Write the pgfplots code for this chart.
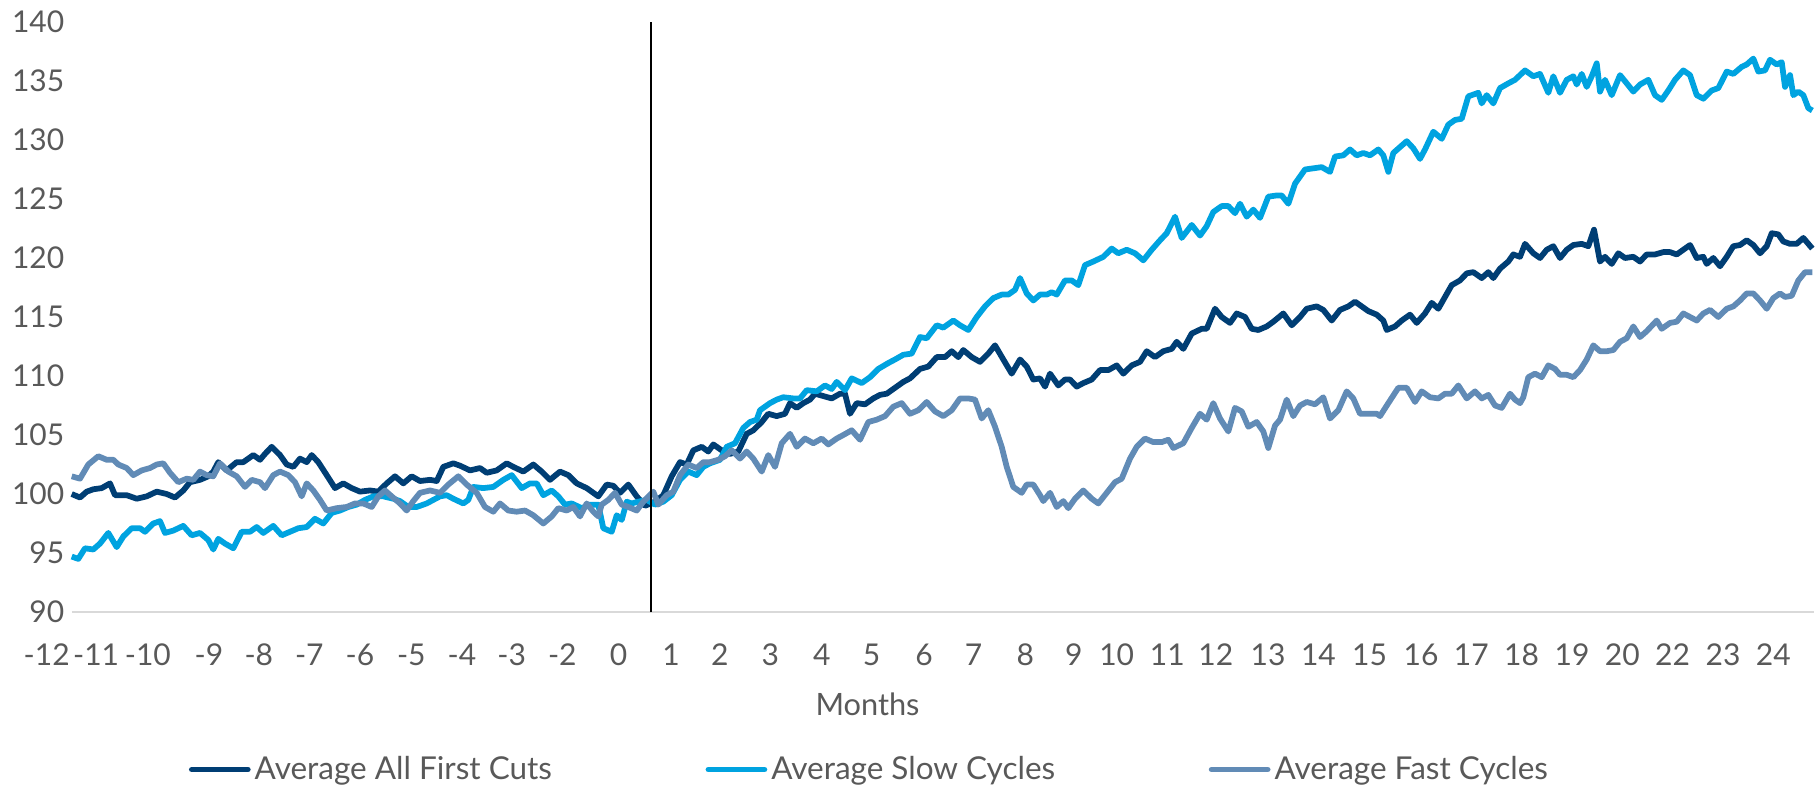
\documentclass[border=0pt]{standalone}
\usepackage{pgfplots}
\usepackage{pgfplotstable}
\usepackage{fontspec}
\setmainfont{Lato}
\pgfplotsset{compat=1.18}

\definecolor{navy}{HTML}{003E74}
\definecolor{lightblue}{HTML}{00A3E0}
\definecolor{steel}{HTML}{618BB6}
\definecolor{txtgray}{HTML}{595959}
\definecolor{basegray}{HTML}{D9D9D9}

% x = position along the axis (pixels of the original), y = index value
\pgfplotstableread{
x y
71.7 100.0
80 99.7
86.7 100.2
93.3 100.4
101.7 100.5
110 100.9
115 99.9
126.7 99.9
136.7 99.6
146.7 99.8
156.7 100.2
166.7 100.0
175 99.7
183.3 100.3
190 101.0
200 101.2
208.3 101.5
213.3 101.9
218.3 102.7
226.7 102.0
236.7 102.7
243.3 102.7
253.3 103.3
260 102.9
265 103.4
271.7 104.0
280 103.3
286.7 102.5
293.3 102.3
300 103.0
306.7 102.7
311.7 103.3
318.3 102.7
326.7 101.6
335 100.5
343.3 100.9
351.7 100.5
360 100.2
370 100.3
378.3 100.2
386.7 100.9
395 101.5
403.3 100.9
411.7 101.5
420 101.1
430 101.2
436.7 101.1
443.3 102.3
453.3 102.6
460 102.4
470 102.0
480 102.2
486.7 101.8
496.7 102.0
506.7 102.6
513.3 102.3
523.3 101.9
533.3 102.5
541.7 101.9
550 101.2
560 101.9
568.3 101.6
576.7 100.9
586.7 100.5
598.3 99.8
606.7 100.8
613.3 100.7
620 100.1
628.3 100.8
636.7 99.8
645 99.0
655 99.35
663.3 99.9
671.7 101.5
680 102.7
686.7 102.5
693.3 103.7
701.7 104.0
708.3 103.6
713.3 104.2
721.7 103.7
730 103.4
738.3 103.6
746.7 105.1
753.3 105.4
761.7 106.1
768.3 106.8
776.7 106.6
785 106.8
790 107.7
796.7 107.3
803.3 107.7
810 108.0
815 108.5
823.3 108.3
831.7 108.1
840 108.5
845 108.5
850 106.8
856.7 107.7
865 107.6
873.3 108.1
880 108.4
886.7 108.5
895 109.0
903.3 109.5
910 109.8
920 110.6
928.3 110.8
936.7 111.6
945 111.6
951.7 112.1
958.3 111.6
963.3 112.2
971.7 111.6
980 111.2
988.3 111.9
995 112.6
1003.3 111.4
1011.7 110.2
1020 111.4
1026.7 110.8
1033.3 109.7
1040 109.8
1045 109.1
1050 110.2
1058.3 109.2
1065 109.7
1070 109.7
1076.7 109.1
1083.3 109.4
1091.7 109.7
1100 110.5
1108.3 110.5
1116.7 110.9
1123.3 110.2
1131.7 110.9
1140 111.2
1146.7 112.1
1155 111.6
1163.3 112.1
1171.7 112.3
1176.7 112.9
1183.3 112.3
1191.7 113.6
1201.7 114.0
1206.7 114.0
1215 115.7
1221.7 115.0
1230 114.5
1236.7 115.3
1245 115.0
1251.7 114.0
1258.3 113.9
1266.7 114.2
1273.3 114.6
1283.3 115.3
1291.7 114.3
1300 115.0
1306.7 115.7
1316.7 115.9
1323.3 115.6
1331.7 114.7
1340 115.6
1348.3 115.9
1355 116.3
1361.7 115.9
1368.3 115.5
1376.7 115.2
1383.3 114.7
1386.7 113.9
1395 114.2
1401.7 114.7
1410 115.2
1416.7 114.5
1425 115.3
1431.7 116.2
1438.3 115.7
1445 116.7
1451.7 117.7
1460 118.1
1466.7 118.7
1473.3 118.8
1481.7 118.3
1488.3 118.8
1493.3 118.3
1500 119.1
1508.3 119.7
1513.3 120.3
1520 120.1
1525 121.2
1533.3 120.4
1540 120.0
1546.7 120.7
1553.3 121.0
1560 120.0
1566.7 120.7
1573.3 121.1
1581.7 121.2
1588.3 121.0
1594 122.4
1600 119.7
1605 120.1
1611.7 119.5
1618.3 120.4
1625 120.0
1633.3 120.1
1640 119.7
1646.7 120.3
1655 120.3
1663.3 120.5
1670 120.5
1676.7 120.3
1683.3 120.7
1690 121.1
1696.7 120.0
1703.3 120.1
1706.7 119.5
1713.3 120.0
1720 119.3
1726.7 120.1
1733.3 121.0
1740 121.1
1746.7 121.5
1753.3 121.1
1760 120.4
1766.7 121.0
1771.7 122.1
1778.3 122.0
1783.3 121.4
1790 121.2
1796.7 121.2
1803.3 121.7
1808.3 121.2
1812.3 120.8
}\allcuts

\pgfplotstableread{
x y
71.7 94.7
78.3 94.5
85 95.4
93.3 95.3
100 95.8
108.3 96.7
116.7 95.5
123.3 96.4
131.7 97.1
140 97.1
145 96.8
153.3 97.5
160 97.7
165 96.7
173.3 96.9
183.3 97.3
191.7 96.5
200 96.7
208.3 96.1
213.3 95.3
218.3 96.2
225 95.8
233.3 95.4
241.7 96.8
250 96.8
256.7 97.2
263.3 96.7
273.3 97.3
281.7 96.5
290 96.8
298.3 97.1
306.7 97.2
315 97.9
323.3 97.5
331.7 98.4
340 98.6
348.3 98.9
356.7 99.1
365 99.5
373.3 99.8
383.3 99.8
393.3 99.6
400 99.4
408.3 98.9
416.7 98.9
426.7 99.2
433.3 99.5
440 99.8
446.7 99.9
453.3 99.6
463.3 99.2
468.3 99.5
473.3 100.6
483.3 100.5
493.3 100.6
503.3 101.2
511.7 101.6
521.7 100.5
530 100.9
536.7 100.9
543.3 99.9
551.7 100.3
558.3 99.8
565 99.1
571.7 99.2
581.7 98.8
590 99.1
598.3 99.1
603.3 97.1
611.7 96.8
616.7 98.2
621.7 97.8
626.7 99.35
631.7 99.2
638.3 99.35
646.7 99.5
655 99.1
663.3 99.35
671.7 99.9
680 101.2
688.3 101.9
696.7 101.6
703.3 102.3
710 102.6
720 102.9
726.7 104.0
735 104.3
743.3 105.6
750 106.1
756.7 106.3
760 107.1
770 107.7
776.7 108.0
783.3 108.2
793.3 108.1
800 108.1
806.7 108.8
816.7 108.7
825 109.2
831.7 108.9
836.7 109.5
845 108.8
851.7 109.8
861.7 109.4
870 109.9
878.3 110.6
888.3 111.1
895 111.4
903.3 111.8
911.7 111.9
920 113.3
926.7 113.2
936.7 114.3
943.3 114.1
953.3 114.7
960 114.3
968.3 113.9
976.7 115.0
985 115.9
993.3 116.6
1001.7 116.9
1008.3 116.9
1015 117.3
1020 118.3
1026.7 117.0
1033.3 116.4
1040 116.9
1046.7 116.9
1051.7 117.1
1056.7 116.9
1065 118.1
1071.7 118.1
1078.3 117.7
1085 119.4
1093.3 119.7
1103.3 120.1
1111.7 120.8
1118.3 120.4
1126.7 120.7
1135 120.4
1143.3 119.8
1151.7 120.7
1160 121.5
1166.7 122.1
1175 123.5
1181.7 121.7
1191.7 122.8
1200 121.9
1206.7 122.7
1213.3 123.9
1221.7 124.4
1228.3 124.4
1235 123.8
1240 124.6
1246.7 123.5
1253.3 124.1
1260 123.4
1268.3 125.2
1276.7 125.3
1281.7 125.3
1288.3 124.6
1295 126.3
1305 127.5
1313.3 127.6
1321.7 127.7
1330 127.3
1335 128.6
1343.3 128.7
1350 129.2
1356.7 128.7
1363.3 128.9
1370 128.7
1378.3 129.2
1383.3 128.7
1388.3 127.3
1393.3 128.9
1400 129.4
1406.7 129.9
1413.3 129.3
1420 128.4
1425 129.2
1433.3 130.7
1441.7 130.1
1448.3 131.3
1455 131.7
1461.7 131.8
1468.3 133.7
1478.3 134.0
1481.7 133.1
1486.7 133.8
1493.3 133.1
1500 134.4
1508.3 134.8
1515 135.1
1520 135.5
1525 135.9
1533.3 135.4
1540 135.6
1548.3 134.0
1553.3 135.4
1560 134.0
1566.7 135.1
1573.3 135.4
1576.7 134.7
1581.7 135.6
1586.7 134.5
1591.7 135.4
1596.7 136.5
1600 134.1
1605 135.1
1611.7 133.8
1620 135.5
1626.7 134.8
1633.3 134.1
1640 134.7
1648.3 135.1
1655 133.8
1661.7 133.4
1668.3 134.2
1675 135.1
1683.3 135.9
1690 135.5
1696.7 133.8
1703.3 133.5
1711.7 134.2
1718.3 134.4
1726.7 135.8
1733.3 135.6
1741.7 136.2
1746.7 136.4
1753.3 136.9
1758.3 135.8
1765 135.9
1770 136.8
1776.7 136.4
1781.7 136.6
1785 134.5
1790 135.5
1793.3 133.8
1798.3 134.1
1803.3 133.8
1808.3 132.7
1812.3 132.5
}\slow

\pgfplotstableread{
x y
71.7 101.5
80 101.3
88.3 102.5
98.3 103.2
106.7 102.9
113.3 102.9
118.3 102.5
126.7 102.2
133.3 101.6
141.7 102.0
150 102.2
156.7 102.5
163.3 102.6
170 101.8
178.3 101.0
186.7 101.3
193.3 101.2
200 101.9
206.7 101.6
213.3 101.5
220 102.6
228.3 101.9
236.7 101.5
245 100.6
251.7 101.2
260 101.0
265 100.5
273.3 101.6
280 101.9
288.3 101.6
295 101.0
301.7 99.8
306.7 100.9
313.3 100.3
320 99.5
326.7 98.6
336.7 98.8
346.7 98.9
355 99.2
363.3 99.2
371.7 98.9
378.3 99.8
385 100.3
391.7 99.8
400 99.2
406.7 98.6
413.3 99.4
420 100.1
430 100.3
440 100.1
448.3 100.8
458.3 101.5
466.7 100.8
476.7 100.1
485 98.9
493.3 98.5
500 99.2
508.3 98.6
516.7 98.5
525 98.6
533.3 98.2
543.3 97.5
551.7 98.1
558.3 98.8
566.7 98.6
573.3 98.9
580 98.1
586.7 99.2
593.3 98.5
598.3 98.1
601.7 99.1
608.3 99.5
615 100.1
621.7 99.1
628.3 98.9
636.7 98.6
643.3 99.35
653.3 100.2
658.3 99.1
666.7 99.9
673.3 100.2
680 101.6
688.3 102.5
696.7 102.2
703.3 102.7
710 102.7
718.3 102.9
725 103.2
731.7 103.7
740 103.0
746.7 103.6
753.3 103.0
761.7 101.9
768.3 103.3
775 102.3
781.7 104.3
790 105.1
796.7 104.0
805 104.7
813.3 104.3
821.7 104.7
828.3 104.2
836.7 104.7
843.3 105.0
851.7 105.4
860 104.6
868.3 106.1
876.7 106.3
885 106.6
893.3 107.4
901.7 107.7
910 106.8
918.3 107.1
926.7 107.8
935 107.0
943.3 106.6
951.7 107.1
960 108.1
968.3 108.1
975 108.0
981.7 106.4
988.3 107.1
995 105.7
1001.7 104.0
1006.7 102.3
1013.3 100.6
1021.7 100.1
1026.7 100.8
1033.3 100.8
1040 99.9
1043.3 99.4
1050 100.1
1056.7 98.9
1063.3 99.4
1068.3 98.8
1075 99.6
1083.3 100.3
1091.7 99.6
1098.3 99.2
1106.7 100.1
1115 101.0
1121.7 101.3
1130 103.0
1136.7 104.0
1145 104.7
1153.3 104.4
1161.7 104.4
1168.3 104.6
1173.3 103.9
1183.3 104.3
1191.7 105.6
1200 106.8
1206.7 106.3
1213.3 107.7
1220 106.4
1228.3 105.3
1235 107.3
1241.7 107.0
1248.3 105.7
1256.7 106.1
1263.3 105.3
1268.3 103.9
1275 105.8
1280 106.3
1286.7 108.0
1293.3 106.6
1300 107.5
1306.7 107.8
1315 107.6
1323.3 108.2
1330 106.4
1338.3 107.1
1346.7 108.7
1353.3 108.1
1360 106.8
1368.3 106.8
1376.7 106.8
1380 106.6
1388.3 107.7
1398.3 109.0
1406.7 109.0
1415 107.8
1421.7 108.7
1430 108.2
1438.3 108.1
1445 108.5
1451.7 108.5
1458.3 109.2
1466.7 108.1
1475 108.7
1481.7 108.1
1488.3 108.4
1495 107.5
1501.7 107.3
1510 108.5
1515 108.0
1520 107.7
1523.3 108.2
1528.3 109.9
1535 110.2
1541.7 109.9
1548.3 110.9
1555 110.6
1560 110.1
1566.7 110.1
1573.3 109.9
1580 110.5
1586.7 111.4
1593.3 112.6
1600 112.1
1606.7 112.1
1613.3 112.2
1620 112.9
1626.7 113.2
1633.3 114.2
1640 113.3
1646.7 113.8
1656.7 114.7
1661.7 114.0
1670 114.5
1676.7 114.6
1683.3 115.3
1690 115.0
1696.7 114.7
1703.3 115.3
1710 115.6
1718.3 115.0
1726.7 115.7
1733.3 115.9
1740 116.4
1746.7 117.0
1753.3 117.0
1760 116.4
1766.7 115.7
1773.3 116.6
1780 117.0
1785 116.7
1791.7 116.8
1798.3 118.1
1805 118.8
1812.3 118.8
}\fast

\begin{document}
\begin{tikzpicture}
\begin{axis}[
    at={(8pt,68.8pt)}, anchor=south west,
    scale only axis,
    width=717.44pt, height=236pt,
    xmin=20, xmax=1813.6,
    ymin=90, ymax=140,
    axis x line*=bottom, axis y line*=left,
    axis line style={draw=none},
    tick style={draw=none},
    clip=false,
    ytick={90,95,...,140},
    xtick={46.7,96.1,147.9,209,258.8,309.3,359.9,411.3,461.9,511.7,562.3,618.6,671.1,719.8,770.4,821.7,871.5,924.1,973.5,1025.2,1073.9,1116.7,1167.3,1215.8,1268.1,1318.4,1369.5,1421,1471.3,1521.6,1572,1622.3,1672.6,1723,1773.3},
    xticklabels={-12,-11,-10,-9,-8,-7,-6,-5,-4,-3,-2,0,1,2,3,4,5,6,7,8,9,10,11,12,13,14,15,16,17,18,19,20,22,23,24},
    /pgf/number format/assume math mode=true,
    tick label style={font=\fontsize{12}{14}\selectfont, text=txtgray},
    yticklabel style={anchor=east, inner sep=0pt, xshift=17.9pt},
    xticklabel style={anchor=north, inner sep=0pt, yshift=-12.4pt},
    xlabel={Months},
    xlabel style={at={(axis description cs:0.4725,-0.1746)}, anchor=base,
        font=\fontsize{12.3}{14}\selectfont, text=txtgray},
    legend columns=3,
    legend style={draw=none, fill=none, inner sep=0pt, outer sep=0pt,
        at={(axis description cs:0.0942,-0.267)}, anchor=west,
        font=\fontsize{12.6}{15}\selectfont, text=txtgray,
        nodes={inner sep=1.6pt, anchor=west},
        /tikz/every even column/.append style={column sep=59.8pt}},
    legend image code/.code={\draw[#1, line cap=round] (0pt,0pt) -- (22.4pt,0pt);},
    every axis plot/.append style={line width=2.3pt, line join=round},
]
\addplot[basegray, line width=0.8pt, forget plot] coordinates {(71.8,90) (1813.6,90)};
\addplot[navy] table {\allcuts};
\addlegendentry{Average All First Cuts}
\addplot[lightblue] table {\slow};
\addlegendentry{Average Slow Cycles}
\addplot[steel] table {\fast};
\addlegendentry{Average Fast Cycles}
\addplot[black, line width=0.8pt, forget plot] coordinates {(651,90) (651,140)};
\end{axis}
\pgfresetboundingbox
\path[use as bounding box] (0,0) rectangle (726.8pt,313.6pt);
\end{tikzpicture}
\end{document}
